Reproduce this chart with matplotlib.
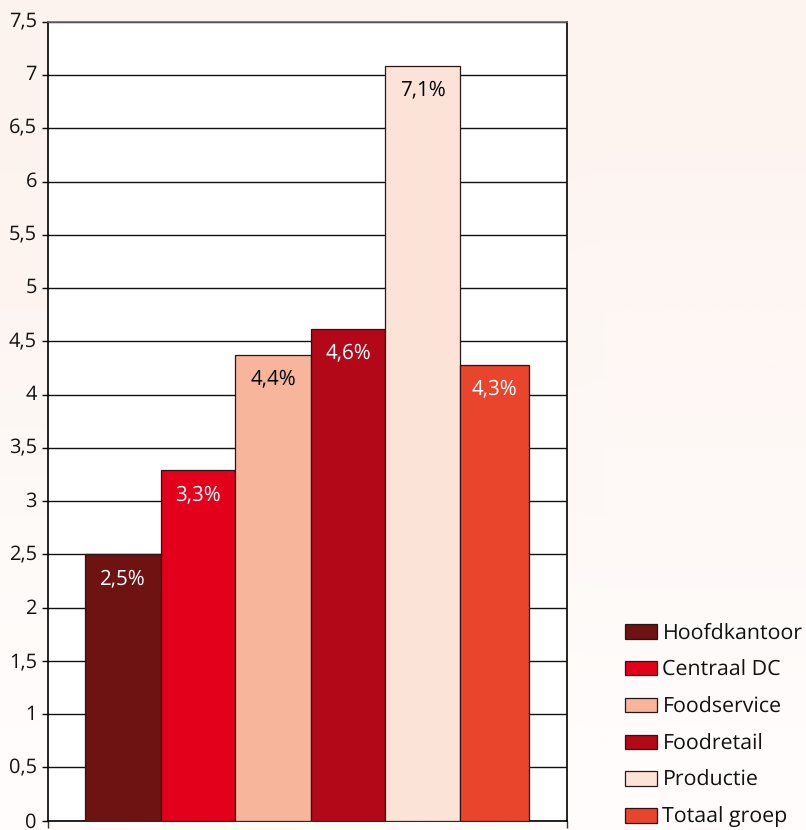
import matplotlib
matplotlib.use('Agg')
import matplotlib.pyplot as plt
from matplotlib.colors import to_rgb
from matplotlib.transforms import Affine2D

plt.rcParams['font.family'] = ['Open Sans', 'DejaVu Sans']
plt.rcParams['text.hinting'] = 'none'

categories = ['Hoofdkantoor', 'Centraal DC', 'Foodservice', 'Foodretail', 'Productie', 'Totaal groep']
values = [2.5, 3.29, 4.37, 4.62, 7.09, 4.28]
labels = ['2,5%', '3,3%', '4,4%', '4,6%', '7,1%', '4,3%']
colors = ['#6e1212', '#e2001a', '#f7b59b', '#b20818', '#fce3d8', '#e8452c']
label_colors = ['white', 'white', 'black', 'white', 'black', 'white']
yticks = [0, 0.5, 1, 1.5, 2, 2.5, 3, 3.5, 4, 4.5, 5, 5.5, 6, 6.5, 7, 7.5]
ytick_labels = ['0', '0,5', '1', '1,5', '2', '2,5', '3', '3,5', '4', '4,5', '5', '5,5', '6', '6,5', '7', '7,5']

# the bars are not quite the same width in the original, in pixels
bar_px = [76, 74, 76, 74, 75, 69]
# faint wash behind the chart, top to bottom
bg_tints = [['#fdf3ee', '#fdf4f0'], ['#fdf5f1', '#fef7f4'], ['#fefaf8', '#fef9f7'], ['#fffcfb', '#fffcfb']]

W, H = 806, 830
fig = plt.figure(figsize=(W / 100, H / 100), dpi=100, facecolor='#fef7f3')

bg = fig.add_axes([0, 0, 1, 1], zorder=0)
bg.imshow([[to_rgb(c) for c in row] for row in bg_tints], aspect='auto', interpolation='bilinear')
bg.axis('off')

ax = fig.add_axes([48 / W, 1 - 820.7 / H, (567 - 48) / W, (820.7 - 22) / H], zorder=1)
ax.set_facecolor('white')

handles = []
left = 85
for i in range(len(values)):
    bar = ax.bar(left, values[i], width=bar_px[i], align='edge', color=colors[i],
                 edgecolor='#2a1515', linewidth=0.9, zorder=3)
    handles.append(bar[0])
    ax.annotate(labels[i], (left + bar_px[i] / 2, values[i]), xytext=(0, -24), textcoords='offset pixels',
                ha='center', va='center', color=label_colors[i], fontsize=14.8, zorder=4)
    left += bar_px[i]

ax.set_xlim(48, 567)
ax.set_ylim(0, 7.5)
ax.set_yticks(yticks)
ax.set_yticklabels(ytick_labels, fontsize=14.4, color='#111111')
ax.set_xticks([48, 567])
ax.set_xticklabels([])
ax.tick_params(axis='y', length=4.5, width=1, color='black', pad=3.5, direction='out')
ax.tick_params(axis='x', length=5, width=1, color='#333333')
ax.grid(axis='y', color='#111111', linewidth=1, zorder=1)
ax.set_axisbelow(True)
for side in ['left', 'right', 'bottom']:
    ax.spines[side].set_color('black')
    ax.spines[side].set_linewidth(1.2)
ax.spines['top'].set_color('#666666')
ax.spines['top'].set_linewidth(1.2)

# tick labels creep upward relative to their ticks going up the axis
for tick_val, lab in zip(yticks, ax.get_yticklabels()):
    lab.set_transform(lab.get_transform() + Affine2D().translate(0, 1 + 2.5 * tick_val / 7.5))

leg = fig.legend(handles, categories, loc='lower left', bbox_to_anchor=(625 / W, 1 - 828 / H),
                 bbox_transform=fig.transFigure, frameon=False, fontsize=15.4, handlelength=1.5,
                 handleheight=0.66, handletextpad=0.25, labelspacing=0.74, borderpad=0, borderaxespad=0)
for t in leg.get_texts():
    t.set_color('#111111')

fig.savefig('out.png', dpi=100, facecolor=fig.get_facecolor())
